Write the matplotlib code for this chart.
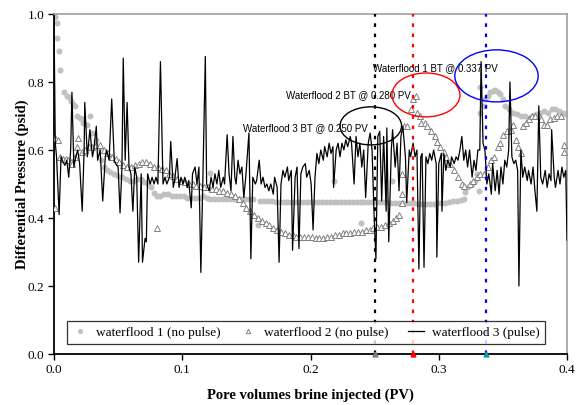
import matplotlib

matplotlib.use("Agg")
import matplotlib.pyplot as plt
from matplotlib.patches import Ellipse

# waterflood 1 (no pulse) - light grey dots
wf1_x = [0.001, 0.002, 0.0025, 0.004, 0.005, 0.008, 0.010, 0.012, 0.013, 0.015,
         0.016, 0.018, 0.020, 0.022, 0.023, 0.026, 0.028, 0.030, 0.033, 0.035,
         0.037, 0.039, 0.041, 0.044, 0.047, 0.050, 0.053, 0.056, 0.059, 0.062,
         0.065, 0.068, 0.070, 0.073, 0.076, 0.078, 0.080, 0.083, 0.086, 0.089,
         0.092, 0.095, 0.098, 0.101, 0.104, 0.107, 0.110, 0.113, 0.116, 0.119,
         0.1216, 0.122, 0.125, 0.128, 0.131, 0.134, 0.137, 0.140, 0.143, 0.146,
         0.149, 0.152, 0.155, 0.159, 0.161, 0.164, 0.167, 0.170, 0.173, 0.176,
         0.179, 0.182, 0.185, 0.188, 0.191, 0.194, 0.197, 0.200, 0.203, 0.206,
         0.209, 0.212, 0.215, 0.218, 0.218, 0.221, 0.224, 0.227, 0.230, 0.233,
         0.236, 0.239, 0.239, 0.242, 0.245, 0.248, 0.251, 0.254, 0.257, 0.260,
         0.2635, 0.263, 0.266, 0.269, 0.272, 0.275, 0.278, 0.281, 0.284, 0.287,
         0.290, 0.293, 0.296, 0.299, 0.302, 0.305, 0.308, 0.311, 0.314, 0.317,
         0.320, 0.3205, 0.323, 0.326, 0.328, 0.330, 0.331, 0.332, 0.3325, 0.335,
         0.336, 0.338, 0.340, 0.342, 0.344, 0.346, 0.348, 0.350, 0.352, 0.355,
         0.358, 0.361, 0.364, 0.367, 0.370, 0.373, 0.376, 0.379, 0.382, 0.385,
         0.388, 0.391, 0.394, 0.397, 0.399]
wf1_y = [0.99, 0.975, 0.93, 0.89, 0.835, 0.77, 0.76, 0.755, 0.745, 0.735,
         0.73, 0.70, 0.695, 0.69, 0.68, 0.675, 0.70, 0.65, 0.63, 0.605,
         0.57, 0.55, 0.54, 0.535, 0.53, 0.525, 0.52, 0.515, 0.51, 0.51,
         0.515, 0.515, 0.505, 0.50, 0.49, 0.475, 0.465, 0.465, 0.47, 0.47,
         0.465, 0.465, 0.465, 0.465, 0.46, 0.46, 0.46, 0.46, 0.465, 0.46,
         0.532, 0.455, 0.455, 0.455, 0.455, 0.455, 0.455, 0.455, 0.455, 0.455,
         0.455, 0.455, 0.455, 0.38, 0.45, 0.45, 0.45, 0.45, 0.448, 0.448,
         0.448, 0.447, 0.447, 0.447, 0.447, 0.447, 0.446, 0.446, 0.446, 0.446,
         0.446, 0.446, 0.446, 0.446, 0.51, 0.446, 0.446, 0.447, 0.447, 0.447,
         0.447, 0.447, 0.385, 0.447, 0.447, 0.447, 0.446, 0.446, 0.446, 0.446,
         0.51, 0.445, 0.445, 0.445, 0.444, 0.444, 0.443, 0.443, 0.442, 0.442,
         0.442, 0.442, 0.442, 0.443, 0.444, 0.445, 0.447, 0.449, 0.451, 0.453,
         0.455, 0.476, 0.49, 0.50, 0.51, 0.53, 0.48, 0.71, 0.785, 0.73,
         0.75, 0.76, 0.77, 0.775, 0.776, 0.77, 0.765, 0.75, 0.73, 0.72,
         0.71, 0.705, 0.70, 0.70, 0.695, 0.70, 0.705, 0.71, 0.715, 0.71,
         0.72, 0.72, 0.715, 0.71, 0.705]

# waterflood 2 (no pulse) - open grey triangles
wf2_x = [0.0005, 0.001, 0.003, 0.005, 0.007, 0.009, 0.011, 0.013, 0.014, 0.016,
         0.018, 0.019, 0.022, 0.024, 0.027, 0.030, 0.033, 0.036, 0.039, 0.042,
         0.045, 0.048, 0.051, 0.054, 0.057, 0.060, 0.063, 0.066, 0.069, 0.072,
         0.075, 0.078, 0.080, 0.081, 0.084, 0.087, 0.090, 0.093, 0.096, 0.099,
         0.102, 0.105, 0.108, 0.111, 0.114, 0.117, 0.120, 0.123, 0.126, 0.129,
         0.132, 0.135, 0.138, 0.141, 0.144, 0.147, 0.150, 0.153, 0.156, 0.159,
         0.162, 0.165, 0.168, 0.171, 0.174, 0.177, 0.180, 0.183, 0.186, 0.189,
         0.192, 0.195, 0.198, 0.201, 0.204, 0.207, 0.210, 0.213, 0.216, 0.219,
         0.222, 0.225, 0.228, 0.231, 0.234, 0.237, 0.240, 0.243, 0.246, 0.249,
         0.252, 0.255, 0.258, 0.261, 0.264, 0.267, 0.269, 0.271, 0.2712, 0.2715,
         0.273, 0.275, 0.278, 0.280, 0.282, 0.283, 0.285, 0.286, 0.289, 0.291,
         0.294, 0.297, 0.299, 0.301, 0.304, 0.306, 0.309, 0.312, 0.315, 0.318,
         0.320, 0.324, 0.327, 0.330, 0.332, 0.335, 0.338, 0.341, 0.343, 0.346,
         0.348, 0.350, 0.353, 0.356, 0.358, 0.360, 0.362, 0.364, 0.366, 0.368,
         0.370, 0.373, 0.375, 0.378, 0.380, 0.382, 0.384, 0.387, 0.390, 0.392,
         0.395, 0.398, 0.398]
wf2_y = [0.635, 0.43, 0.63, 0.58, 0.575, 0.575, 0.57, 0.565, 0.56, 0.58,
         0.61, 0.635, 0.595, 0.60, 0.61, 0.61, 0.615, 0.615, 0.60, 0.59,
         0.58, 0.575, 0.565, 0.555, 0.55, 0.55, 0.555, 0.56, 0.565, 0.565,
         0.56, 0.55, 0.37, 0.55, 0.545, 0.54, 0.53, 0.525, 0.515, 0.51,
         0.505, 0.50, 0.50, 0.495, 0.495, 0.49, 0.49, 0.485, 0.485, 0.48,
         0.48, 0.475, 0.47, 0.465, 0.455, 0.445, 0.43, 0.42, 0.41, 0.40,
         0.39, 0.385, 0.38, 0.37, 0.365, 0.36, 0.355, 0.35, 0.35, 0.345,
         0.345, 0.345, 0.345, 0.345, 0.34, 0.34, 0.34, 0.345, 0.345, 0.35,
         0.35, 0.355, 0.355, 0.355, 0.36, 0.36, 0.36, 0.365, 0.365, 0.37,
         0.375, 0.375, 0.38, 0.385, 0.39, 0.40, 0.41, 0.47, 0.445, 0.53,
         0.67, 0.67, 0.72, 0.75, 0.76, 0.71, 0.70, 0.68, 0.68, 0.67,
         0.655, 0.64, 0.625, 0.61, 0.595, 0.58, 0.56, 0.54, 0.52, 0.50,
         0.495, 0.50, 0.51, 0.52, 0.53, 0.53, 0.55, 0.57, 0.58, 0.61,
         0.62, 0.645, 0.655, 0.66, 0.675, 0.63, 0.61, 0.59, 0.67, 0.68,
         0.69, 0.70, 0.70, 0.70, 0.69, 0.675, 0.675, 0.69, 0.695, 0.70,
         0.70, 0.615, 0.595]

# waterflood 3 (pulse) - black line
wf3_x = [0.000, 0.001, 0.002, 0.004, 0.0055, 0.007, 0.0085, 0.010, 0.0115, 0.013,
         0.014, 0.0155, 0.017, 0.0185, 0.020, 0.022, 0.0235, 0.024, 0.026, 0.027,
         0.028, 0.030, 0.031, 0.033, 0.034, 0.036, 0.038, 0.040, 0.041, 0.043,
         0.045, 0.047, 0.048, 0.050, 0.0515, 0.053, 0.054, 0.0555, 0.057, 0.0585,
         0.060, 0.0615, 0.063, 0.0645, 0.066, 0.068, 0.069, 0.071, 0.072, 0.073,
         0.075, 0.0765, 0.078, 0.0795, 0.081, 0.083, 0.085, 0.0865, 0.088, 0.090,
         0.091, 0.093, 0.094, 0.096, 0.0975, 0.099, 0.1005, 0.102, 0.104, 0.105,
         0.107, 0.108, 0.110, 0.1115, 0.113, 0.1145, 0.116, 0.118, 0.119, 0.121,
         0.1225, 0.124, 0.1255, 0.127, 0.1285, 0.130, 0.132, 0.133, 0.135, 0.1365,
         0.138, 0.1395, 0.141, 0.142, 0.1435, 0.145, 0.1465, 0.148, 0.1495, 0.152,
         0.1535, 0.155, 0.157, 0.158, 0.160, 0.1615, 0.163, 0.1645, 0.166, 0.1675,
         0.169, 0.171, 0.172, 0.174, 0.1755, 0.177, 0.1785, 0.180, 0.182, 0.183,
         0.185, 0.186, 0.188, 0.1895, 0.191, 0.1925, 0.194, 0.196, 0.197, 0.199,
         0.2005, 0.202, 0.2035, 0.205, 0.2065, 0.208, 0.210, 0.211, 0.213, 0.2145,
         0.216, 0.2175, 0.218, 0.220, 0.2215, 0.223, 0.2245, 0.226, 0.2275, 0.229,
         0.231, 0.232, 0.234, 0.2355, 0.237, 0.2385, 0.240, 0.2415, 0.243, 0.245,
         0.2465, 0.248, 0.2495, 0.251, 0.2525, 0.254, 0.2555, 0.257, 0.259, 0.2595,
         0.261, 0.263, 0.264, 0.266, 0.2675, 0.269, 0.2705, 0.272, 0.274, 0.275,
         0.277, 0.278, 0.280, 0.2815, 0.283, 0.2845, 0.286, 0.287, 0.2885, 0.290,
         0.2915, 0.293, 0.2945, 0.296, 0.298, 0.2985, 0.300, 0.302, 0.3025, 0.304,
         0.3055, 0.307, 0.309, 0.310, 0.312, 0.3135, 0.315, 0.3165, 0.318, 0.3195,
         0.321, 0.3225, 0.324, 0.326, 0.3275, 0.329, 0.3305, 0.332, 0.333, 0.3345,
         0.336, 0.3375, 0.339, 0.341, 0.342, 0.344, 0.3455, 0.347, 0.3485, 0.350,
         0.3515, 0.353, 0.3545, 0.3555, 0.357, 0.3585, 0.360, 0.3615, 0.3625, 0.364,
         0.3655, 0.367, 0.369, 0.370, 0.372, 0.3735, 0.375, 0.3765, 0.378, 0.3795,
         0.381, 0.383, 0.3845, 0.386, 0.3875, 0.388, 0.390, 0.391, 0.393, 0.3945,
         0.396, 0.3975, 0.399, 0.400]
wf3_y = [0.99, 0.62, 0.58, 0.41, 0.58, 0.565, 0.555, 0.57, 0.52, 0.60,
         0.77, 0.55, 0.58, 0.60, 0.56, 0.42, 0.60, 0.74, 0.58, 0.62,
         0.66, 0.58, 0.60, 0.67, 0.57, 0.60, 0.45, 0.58, 0.60, 0.57,
         0.75, 0.57, 0.56, 0.55, 0.415, 0.55, 0.87, 0.57, 0.74, 0.55,
         0.53, 0.42, 0.55, 0.52, 0.27, 0.53, 0.27, 0.34, 0.33, 0.53,
         0.50, 0.52, 0.50, 0.52, 0.50, 0.86, 0.50, 0.52, 0.50, 0.52,
         0.625, 0.49, 0.51, 0.575, 0.49, 0.52, 0.50, 0.52, 0.49, 0.51,
         0.43, 0.53, 0.55, 0.50, 0.55, 0.24, 0.50, 0.875, 0.50, 0.48,
         0.52, 0.49, 0.53, 0.50, 0.54, 0.49, 0.52, 0.50, 0.645, 0.53,
         0.48, 0.64, 0.52, 0.50, 0.57, 0.53, 0.55, 0.46, 0.52, 0.65,
         0.28, 0.52, 0.50, 0.51, 0.57, 0.50, 0.52, 0.49, 0.50, 0.48,
         0.50, 0.47, 0.52, 0.49, 0.27, 0.50, 0.54, 0.52, 0.55, 0.51,
         0.54, 0.305, 0.52, 0.55, 0.31, 0.53, 0.55, 0.56, 0.52, 0.54,
         0.50, 0.365, 0.52, 0.59, 0.56, 0.60, 0.57, 0.61, 0.58, 0.62,
         0.59, 0.61, 0.49, 0.60, 0.62, 0.58, 0.62, 0.60, 0.63, 0.61,
         0.64, 0.62, 0.50, 0.64, 0.58, 0.62, 0.55, 0.60, 0.46, 0.62,
         0.65, 0.60, 0.415, 0.28, 0.64, 0.655, 0.45, 0.64, 0.42, 0.665,
         0.33, 0.60, 0.66, 0.55, 0.62, 0.48, 0.64, 0.67, 0.58, 0.445,
         0.60, 0.58, 0.62, 0.58, 0.60, 0.25, 0.58, 0.59, 0.255, 0.58,
         0.56, 0.59, 0.57, 0.60, 0.56, 0.285, 0.56, 0.59, 0.42, 0.59,
         0.54, 0.57, 0.55, 0.58, 0.56, 0.58, 0.57, 0.60, 0.64, 0.57,
         0.60, 0.55, 0.60, 0.52, 0.57, 0.54, 0.60, 0.60, 0.86, 0.62,
         0.60, 0.50, 0.53, 0.47, 0.56, 0.48, 0.54, 0.47, 0.55, 0.50,
         0.57, 0.55, 0.60, 0.80, 0.58, 0.56, 0.57, 0.54, 0.20, 0.60,
         0.52, 0.55, 0.51, 0.54, 0.50, 0.55, 0.48, 0.42, 0.73, 0.52,
         0.50, 0.54, 0.49, 0.53, 0.51, 0.66, 0.52, 0.49, 0.54, 0.50,
         0.55, 0.52, 0.54, 0.335]

# breakthrough points (PV)
bt_pv = [0.250, 0.280, 0.337]
bt_colors = ["black", "red", "blue"]
bt_labels = ["Waterflood 3 BT @ 0.250 PV", "Waterflood 2 BT @ 0.280 PV",
             "Waterflood 1 BT @ 0.337 PV"]
# label anchor (left x, y) and circled zone (centre x, centre y, width, height)
bt_label_xy = [(0.147, 0.665), (0.181, 0.760), (0.249, 0.842)]
bt_zone = [(0.247, 0.671, 0.048, 0.112), (0.290, 0.762, 0.053, 0.129),
           (0.345, 0.818, 0.065, 0.153)]
bt_axis_marks = ["#808080", "red", "#00a0a0"]

SERIF = "Liberation Serif"
SANS = "Liberation Sans"

fig = plt.figure(figsize=(5.83, 4.05), dpi=100)
ax = fig.add_axes([0.0926, 0.1259, 0.88, 0.8395])

ax.plot(wf1_x, wf1_y, "o", color="#c0c0c0", ms=3.3, mec="#c0c0c0",
        label="waterflood 1 (no pulse)", zorder=2)
ax.plot(wf2_x, wf2_y, "^", color="#808080", ms=4, mfc="white", mew=0.7,
        label="waterflood 2 (no pulse)", zorder=3)
ax.plot(wf3_x, wf3_y, "-", color="black", lw=0.9,
        label="waterflood 3 (pulse)", zorder=4)

# dotted breakthrough markers, short square dashes
for x, c in zip(bt_pv, bt_colors):
    ax.axvline(x, color=c, lw=1.6, ls=(0, (1.6, 3.0)), zorder=5)
for x, c in zip(bt_pv, bt_axis_marks):
    ax.plot(x, 0.0, "^", color=c, ms=3.5, clip_on=False, zorder=6)

for (tx, ty), txt in zip(bt_label_xy, bt_labels):
    ax.text(tx, ty, txt, fontsize=7, family=SANS, ha="left", va="center",
            zorder=7)
for (cx, cy, w, h), c in zip(bt_zone, bt_colors):
    ax.add_patch(Ellipse((cx, cy), w, h, fill=False, edgecolor=c, lw=1.0,
                         zorder=7))

ax.set_xlim(0, 0.4)
ax.set_ylim(0, 1.0)
ax.set_xticks([0.0, 0.1, 0.2, 0.3, 0.4])
ax.set_yticks([0.0, 0.2, 0.4, 0.6, 0.8, 1.0])
ax.set_xticklabels(["0.0", "0.1", "0.2", "0.3", "0.4"])
ax.set_yticklabels(["0.0", "0.2", "0.4", "0.6", "0.8", "1.0"])
ax.tick_params(direction="out", length=4, width=1, labelsize=9.5, pad=3)
for lab in ax.get_xticklabels() + ax.get_yticklabels():
    lab.set_family(SERIF)

ax.spines["left"].set_linewidth(1.3)
ax.spines["bottom"].set_linewidth(1.3)
ax.spines["top"].set_color("#a0a0a0")
ax.spines["right"].set_color("#a0a0a0")
ax.spines["top"].set_linewidth(1.2)
ax.spines["right"].set_linewidth(1.2)

ax.set_xlabel("Pore volumes brine injected (PV)", family=SERIF,
              fontweight="bold", fontsize=10.5, labelpad=9)
ax.set_ylabel("Differential Pressure (psid)", family=SERIF,
              fontweight="bold", fontsize=10.5, labelpad=-1)

leg = ax.legend(loc="lower left", bbox_to_anchor=(0.025, 0.029, 0.932, 0.106),
                mode="expand", ncol=3, frameon=True, fancybox=False,
                handlelength=1.2, handletextpad=0.6, borderaxespad=0,
                prop={"family": SERIF, "size": 9.5}, markerscale=0.8)
leg.get_frame().set_edgecolor("black")
leg.get_frame().set_linewidth(0.9)
leg.set_zorder(8)

fig.savefig("out.png", dpi=100)
